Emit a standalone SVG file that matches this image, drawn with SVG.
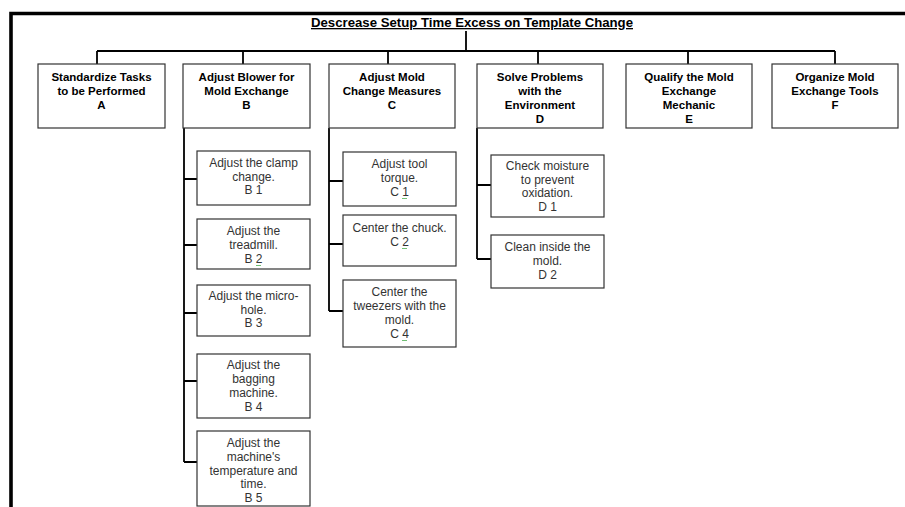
<svg xmlns="http://www.w3.org/2000/svg" width="905" height="507" viewBox="0 0 905 507">
<style>
.bg{fill:#fff}
.frame{fill:none;stroke:#000;stroke-width:3.6}
.box{fill:#fff;stroke:#333;stroke-width:1.2}
.con{fill:none;stroke:#000;stroke-width:1.8}
.t{font-family:"Liberation Sans",Arial,sans-serif;font-weight:bold;font-size:11.5px;fill:#000;text-anchor:middle}
.s{font-family:"Liberation Sans",Arial,sans-serif;font-size:12px;fill:#333;text-anchor:middle}
.title{font-family:"Liberation Sans",Arial,sans-serif;font-weight:bold;font-size:13.2px;fill:#000;text-anchor:middle;text-decoration:underline}
.sq{fill:none;stroke:#4caf50;stroke-width:0.8}
</style>
<rect class="bg" x="0" y="0" width="905" height="507"/>
<path class="frame" d="M11,507 V13.5 H905"/>
<g id="title"><text class="title" x="472" y="27">Descrease Setup Time Excess on Template Change</text></g>
<g id="connectors">
<path class="con" d="M466,31 V51 M97,51 H835 M97,51 V64 M243,51 V64 M388,51 V64 M538,51 V64 M688,51 V64 M835,51 V64"/>
<path class="con" d="M184,128 V462 M184,179 H197 M184,245 H197 M184,313 H197 M184,381 H197 M184,462 H197"/>
<path class="con" d="M329,128 V311 M329,181 H343 M329,244 H343 M329,311 H343"/>
<path class="con" d="M477,128 V259 M477,185 H491 M477,259 H491"/>
</g>
<g id="nodeA"><rect class="box" x="38" y="64" width="127" height="64"/>
<text class="t" x="101.5" y="81">Standardize Tasks</text><text class="t" x="101.5" y="95">to be Performed</text><text class="t" x="101.5" y="109">A</text></g>
<g id="nodeB"><rect class="box" x="183" y="64" width="127" height="64"/>
<text class="t" x="246.5" y="81">Adjust Blower for</text><text class="t" x="246.5" y="95">Mold Exchange</text><text class="t" x="246.5" y="109">B</text></g>
<g id="nodeC"><rect class="box" x="329" y="64" width="126" height="64"/>
<text class="t" x="392" y="81">Adjust Mold</text><text class="t" x="392" y="95">Change Measures</text><text class="t" x="392" y="109">C</text></g>
<g id="nodeD"><rect class="box" x="477" y="64" width="126" height="64"/>
<text class="t" x="540" y="81">Solve Problems</text><text class="t" x="540" y="95">with the</text><text class="t" x="540" y="109">Environment</text><text class="t" x="540" y="122.5">D</text></g>
<g id="nodeE"><rect class="box" x="626" y="64" width="126" height="64"/>
<text class="t" x="689" y="81">Qualify the Mold</text><text class="t" x="689" y="95">Exchange</text><text class="t" x="689" y="109">Mechanic</text><text class="t" x="689" y="122.5">E</text></g>
<g id="nodeF"><rect class="box" x="772" y="64" width="126" height="64"/>
<text class="t" x="835" y="81">Organize Mold</text><text class="t" x="835" y="95">Exchange Tools</text><text class="t" x="835" y="109">F</text></g>
<g id="nodeB1"><rect class="box" x="197" y="151" width="113" height="54"/>
<text class="s" x="253.5" y="167">Adjust the clamp</text><text class="s" x="253.5" y="180.5">change.</text><text class="s" x="253.5" y="194">B 1</text></g>
<g id="nodeB2"><rect class="box" x="197" y="219" width="113" height="50"/>
<text class="s" x="253.5" y="235">Adjust the</text><text class="s" x="253.5" y="249">treadmill.</text><text class="s" x="253.5" y="263">B 2</text>
<path class="sq" d="M256,265 l1,1 l1,-1 l1,1 l1,-1 l1,1"/></g>
<g id="nodeB3"><rect class="box" x="197" y="285" width="113" height="51"/>
<text class="s" x="253.5" y="300">Adjust the micro-</text><text class="s" x="253.5" y="313.5">hole.</text><text class="s" x="253.5" y="327">B 3</text></g>
<g id="nodeB4"><rect class="box" x="197" y="354" width="113" height="64"/>
<text class="s" x="253.5" y="369">Adjust the</text><text class="s" x="253.5" y="383">bagging</text><text class="s" x="253.5" y="397">machine.</text><text class="s" x="253.5" y="410.5">B 4</text></g>
<g id="nodeB5"><rect class="box" x="197" y="431" width="113" height="75"/>
<text class="s" x="253.5" y="447">Adjust the</text><text class="s" x="253.5" y="461">machine's</text><text class="s" x="253.5" y="474.5">temperature and</text><text class="s" x="253.5" y="488">time.</text><text class="s" x="253.5" y="502">B 5</text></g>
<g id="nodeC1"><rect class="box" x="343" y="152" width="113" height="54"/>
<text class="s" x="399.5" y="168">Adjust tool</text><text class="s" x="399.5" y="182">torque.</text><text class="s" x="399.5" y="196">C 1</text>
<path class="sq" d="M402,198 l1,1 l1,-1 l1,1 l1,-1 l1,1"/></g>
<g id="nodeC2"><rect class="box" x="343" y="215" width="113" height="51"/>
<text class="s" x="399.5" y="232">Center the chuck.</text><text class="s" x="399.5" y="246">C 2</text>
<path class="sq" d="M402,248 l1,1 l1,-1 l1,1 l1,-1 l1,1"/></g>
<g id="nodeC4"><rect class="box" x="343" y="280" width="113" height="67"/>
<text class="s" x="399.5" y="296">Center the</text><text class="s" x="399.5" y="310">tweezers with the</text><text class="s" x="399.5" y="324">mold.</text><text class="s" x="399.5" y="338">C 4</text>
<path class="sq" d="M402,340 l1,1 l1,-1 l1,1 l1,-1 l1,1"/></g>
<g id="nodeD1"><rect class="box" x="491" y="155" width="113" height="62"/>
<text class="s" x="547.5" y="169.5">Check moisture</text><text class="s" x="547.5" y="183.5">to prevent</text><text class="s" x="547.5" y="197">oxidation.</text><text class="s" x="547.5" y="211">D 1</text></g>
<g id="nodeD2"><rect class="box" x="491" y="235" width="113" height="53"/>
<text class="s" x="547.5" y="250.5">Clean inside the</text><text class="s" x="547.5" y="264.5">mold.</text><text class="s" x="547.5" y="278.5">D 2</text></g>
</svg>
